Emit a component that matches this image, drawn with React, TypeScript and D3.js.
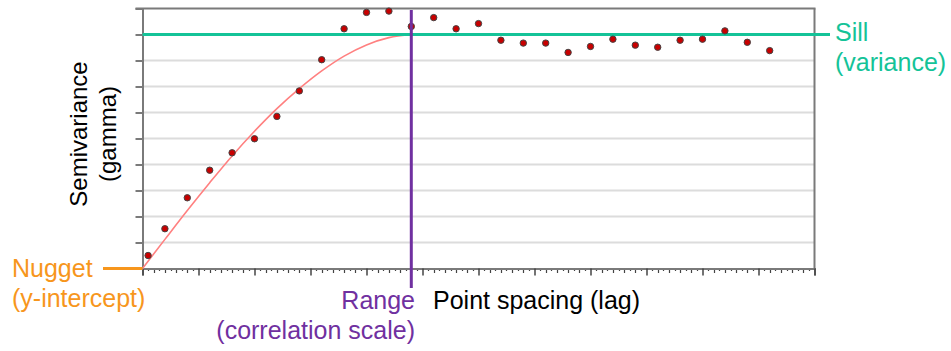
import { useRef, useEffect } from "react";
import * as d3 from "d3";

// experimental semivariogram points (lag, gamma)
const lagValues = [0.1, 0.4, 0.8, 1.2, 1.6, 2.0, 2.4, 2.8, 3.2, 3.6, 4.0, 4.4, 4.8, 5.2, 5.6,
     6.0, 6.4, 6.8, 7.2, 7.6, 8.0, 8.4, 8.8, 9.2, 9.6, 10.0, 10.4, 10.8, 11.2]
const gammaValues = [0.5, 1.53, 2.72, 3.78, 4.45, 4.99, 5.85, 6.83, 8.03, 9.22, 9.85, 9.9, 9.31, 9.65, 9.22,
     9.42, 8.78, 8.67, 8.67, 8.31, 8.54, 8.82, 8.59, 8.51, 8.78, 8.82, 9.14, 8.70, 8.38]

// fitted model curve
const modelLag = [0, 0.4, 0.8, 1.2, 1.6, 2.0, 2.4, 2.8, 3.2, 3.6, 4.0, 4.4, 4.8]
const modelGamma = [0, 1.12, 2.23, 3.3, 4.33, 5.28, 6.15, 6.92, 7.6, 8.17, 8.6, 8.88, 9.0]

const nugget = 0
const sill = 9
const range = 4.8
const xMax = 12
const yMax = 10

const FONT = "'Liberation Sans', Arial, sans-serif"
const FS = 25
const TEAL = "#14c398"
const ORANGE = "#f7961c"
const PURPLE = "#7030a0"
const FRAME = "#7a7a7a"

export default function App() {
     const axisRef = useRef<SVGGElement | null>(null)

     const chartDims = {
          width: 951,
          height: 351,
          left: 142.5,
          right: 814.5,
          top: 8.5,
          bottom: 268.5,
     }

     const xScale = d3.scaleLinear().domain([0, xMax]).range([chartDims.left, chartDims.right])
     const yScale = d3.scaleLinear().domain([0, yMax]).range([chartDims.bottom, chartDims.top])

     const points = lagValues.map((l, i) => ({ lag: l, gamma: gammaValues[i] }))
     const model = modelLag.map((l, i) => ({ lag: l, gamma: modelGamma[i] }))

     const line = d3.line<{ lag: number; gamma: number }>()
          .x(d => xScale(d.lag))
          .y(d => yScale(d.gamma))
          .curve(d3.curveCatmullRom.alpha(0.5))

     useEffect(() => {
          const g = d3.select(axisRef.current)
          g.selectAll("*").remove()

          // minor ticks on x axis
          const minor = d3.range(0, xMax * 10 + 1).filter(i => i % 10 !== 0)
          g.append("g")
               .attr("transform", `translate(0,${chartDims.bottom})`)
               .selectAll("line")
               .data(minor)
               .join("line")
               .attr("x1", i => Math.round(xScale(i / 10)) + 0.5)
               .attr("x2", i => Math.round(xScale(i / 10)) + 0.5)
               .attr("y1", 0)
               .attr("y2", i => (i % 2 === 0 ? 4.5 : 2.5))
               .attr("stroke", "#444")
               .attr("stroke-width", 1.2)

          // major ticks
          const xAxis = d3.axisBottom(xScale)
               .tickValues(d3.range(0, xMax + 1))
               .tickSize(7)
               .tickFormat(() => "")
          const gx = g.append("g")
               .attr("transform", `translate(0,${chartDims.bottom})`)
               .call(xAxis)
          gx.select(".domain").attr("stroke", FRAME).attr("stroke-width", 2)
          gx.selectAll(".tick line").attr("stroke", "#444").attr("stroke-width", 1.5)

          const yAxis = d3.axisLeft(yScale)
               .tickValues(d3.range(0, yMax + 1))
               .tickSize(7)
               .tickSizeOuter(0)
               .tickFormat(() => "")
          const gy = g.append("g")
               .attr("transform", `translate(${chartDims.left},0)`)
               .call(yAxis)
          gy.select(".domain").attr("stroke", FRAME).attr("stroke-width", 2)
          gy.selectAll(".tick line").attr("stroke", FRAME).attr("stroke-width", 2)
     }, [])

     return (
          <div style={{ position: "fixed", left: 0, top: 0, background: "#fff" }}>
               <svg width={chartDims.width} height={chartDims.height} fontFamily={FONT}>
                    <rect width={chartDims.width} height={chartDims.height} fill="#fff" />
                    {/* gridlines */}
                    {d3.range(1, yMax).map(v => (
                         <line key={v} x1={chartDims.left} x2={chartDims.right}
                              y1={yScale(v)} y2={yScale(v)} stroke="#dcdcdc" strokeWidth={2} />
                    ))}
                    {/* frame top / right */}
                    <line x1={chartDims.left - 7} x2={chartDims.right + 1} y1={chartDims.top} y2={chartDims.top}
                         stroke={FRAME} strokeWidth={2} />
                    <line x1={chartDims.right} x2={chartDims.right} y1={chartDims.top} y2={chartDims.bottom}
                         stroke={FRAME} strokeWidth={2} />
                    <g ref={axisRef} />

                    {/* model curve */}
                    <path d={line(model) ?? ""} fill="none" stroke="#ff8080" strokeWidth={1.6} />

                    {/* sill */}
                    <line x1={chartDims.left} x2={830} y1={yScale(sill)} y2={yScale(sill)}
                         stroke={TEAL} strokeWidth={3} />
                    <text x={835} y={41} fontSize={FS} fill={TEAL}>Sill</text>
                    <text x={835} y={71} fontSize={FS} fill={TEAL}>(variance)</text>

                    {/* nugget */}
                    <line x1={103} x2={chartDims.left} y1={yScale(nugget)} y2={yScale(nugget)}
                         stroke={ORANGE} strokeWidth={3} />
                    <text x={12} y={277} fontSize={FS} fill={ORANGE}>Nugget</text>
                    <text x={12} y={307} fontSize={FS} fill={ORANGE}>(y-intercept)</text>

                    {/* points */}
                    {points.map((p, i) => (
                         <circle key={i} cx={xScale(p.lag)} cy={yScale(p.gamma)} r={3.2}
                              fill="#c80000" stroke="#444" strokeWidth={1} />
                    ))}

                    {/* range */}
                    <line x1={xScale(range)} x2={xScale(range)} y1={10} y2={288}
                         stroke={PURPLE} strokeWidth={3} />
                    <text x={415} y={309} fontSize={FS} fill={PURPLE} textAnchor="end">Range</text>
                    <text x={415} y={339} fontSize={FS} fill={PURPLE} textAnchor="end">(correlation scale)</text>

                    <text x={433} y={309} fontSize={FS} fill="#000">Point spacing (lag)</text>

                    <g transform="translate(87,134) rotate(-90)">
                         <text x={0} y={0} fontSize={FS - 1} textAnchor="middle">Semivariance</text>
                         <text x={0} y={29} fontSize={FS - 1} textAnchor="middle">(gamma)</text>
                    </g>
               </svg>
          </div>
     )
}
